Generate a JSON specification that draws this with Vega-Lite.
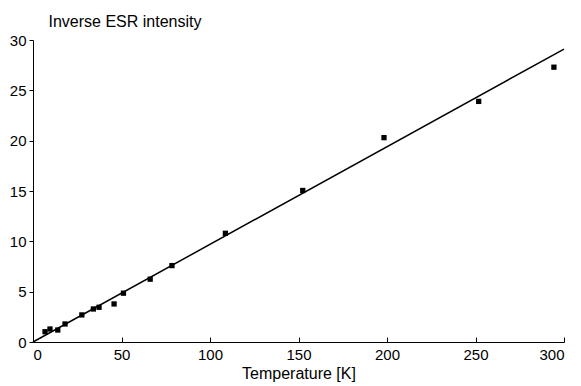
{
  "$schema": "https://vega.github.io/schema/vega-lite/v6.json",
  "width": 531,
  "height": 302,
  "autosize": {"type": "none"},
  "padding": {"left": 33, "top": 40, "right": 17, "bottom": 44},
  "background": "white",
  "config": {
    "view": {"stroke": null},
    "font": "Liberation Sans",
    "axis": {
      "grid": false,
      "domainColor": "black",
      "tickColor": "black",
      "labelColor": "black",
      "titleColor": "black",
      "labelFontSize": 15,
      "titleFontSize": 16,
      "titleFontWeight": "normal",
      "labelFont": "Liberation Sans",
      "titleFont": "Liberation Sans"
    }
  },
  "datasets": {
    "points": [
      {"T": 6.8, "inv": 1.02},
      {"T": 9.6, "inv": 1.29},
      {"T": 14, "inv": 1.19},
      {"T": 18.1, "inv": 1.79},
      {"T": 27.6, "inv": 2.69},
      {"T": 34.1, "inv": 3.28},
      {"T": 37.3, "inv": 3.45},
      {"T": 45.8, "inv": 3.78},
      {"T": 51.1, "inv": 4.85},
      {"T": 66.2, "inv": 6.24},
      {"T": 78.5, "inv": 7.59},
      {"T": 108.7, "inv": 10.8},
      {"T": 152.4, "inv": 15.05},
      {"T": 198.3, "inv": 20.3},
      {"T": 251.8, "inv": 23.9},
      {"T": 294.3, "inv": 27.3}
    ],
    "fit": [
      {"T": 0, "inv": 0},
      {"T": 300, "inv": 29.1}
    ]
  },
  "layer": [
    {
      "data": {"name": "fit"},
      "mark": {"type": "line", "color": "black", "strokeWidth": 1.5},
      "encoding": {
        "x": {
          "field": "T", "type": "quantitative",
          "scale": {"domain": [0, 300], "nice": false},
          "axis": {
            "values": [0, 50, 100, 150, 200, 250, 300],
            "title": "Temperature [K]",
            "tickSize": -5,
            "labelPadding": 10,
            "titleBaseline": "alphabetic",
            "titleY": 36
          }
        },
        "y": {
          "field": "inv", "type": "quantitative",
          "scale": {"domain": [0, 30], "nice": false},
          "axis": {
            "values": [0, 5, 10, 15, 20, 25, 30],
            "title": "Inverse ESR intensity",
            "titleAngle": 0,
            "titleAlign": "left",
            "titleBaseline": "alphabetic",
            "titleX": 15,
            "titleY": -14,
            "tickSize": 4,
            "labelPadding": 3
          }
        }
      }
    },
    {
      "data": {"name": "points"},
      "mark": {"type": "square", "color": "black", "filled": true, "opacity": 1, "size": 28},
      "encoding": {
        "x": {"field": "T", "type": "quantitative"},
        "y": {"field": "inv", "type": "quantitative"}
      }
    }
  ]
}
